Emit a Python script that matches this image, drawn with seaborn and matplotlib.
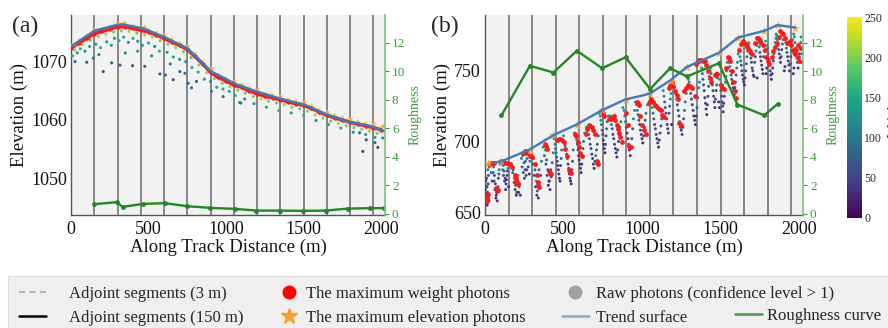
import matplotlib
matplotlib.use("Agg")
import matplotlib.pyplot as plt
import seaborn as sns
from matplotlib.lines import Line2D
from matplotlib.patches import Rectangle
from matplotlib.cm import ScalarMappable
from matplotlib.colors import Normalize

# ---------------- data ----------------
seg_x = [0, 150, 300, 450, 600, 750, 900, 1050, 1200, 1350, 1500, 1650, 1800, 1950]

# panel (a)
trend_a_x = [0, 150, 294, 333, 466, 605, 749, 899, 1060, 1195, 1345, 1496, 1642, 1785, 1929, 2025]
trend_a_y = [1072.6, 1075.3, 1076.3, 1076.4, 1075.7, 1074.2, 1072.3, 1068.4, 1066.2, 1064.9,
             1063.7, 1062.7, 1061.0, 1059.7, 1059.0, 1058.0]
rough_a_x = [150, 294, 333, 466, 605, 749, 899, 1060, 1195, 1345, 1496, 1642, 1785, 1929, 2020]
rough_a_y = [0.66, 0.80, 0.47, 0.68, 0.73, 0.52, 0.40, 0.33, 0.21, 0.21, 0.19, 0.21, 0.35, 0.38, 0.38]
red_a_x = [0, 50, 100, 150, 200, 250, 300, 350, 400, 450, 500, 550, 600, 650, 700, 750, 800, 850, 900, 950,
           1000, 1050, 1100, 1150, 1200, 1250, 1300, 1350, 1400, 1450, 1500, 1550, 1600, 1650, 1700, 1750,
           1800, 1850, 1900, 1950, 2000]
red_a_y = [1072.3, 1073.2, 1074.0, 1074.8, 1075.2, 1075.6, 1076.0, 1076.0, 1075.7, 1075.4,
           1075.1, 1074.6, 1074.0, 1073.4, 1072.8, 1072.1, 1070.9, 1069.6, 1068.2, 1067.3,
           1066.7, 1066.0, 1065.6, 1065.0, 1064.5, 1064.1, 1063.8, 1063.5, 1063.1, 1062.8,
           1062.5, 1062.0, 1061.4, 1060.8, 1060.4, 1060.0, 1059.6, 1059.3, 1059.0, 1058.7, 1058.3]
star_a_x = [20, 150, 300, 340, 470, 600, 750, 900, 1050, 1200, 1350, 1500, 1650, 1800, 1950, 2010]
star_a_y = [1073.0, 1075.6, 1076.6, 1076.7, 1076.0, 1074.6, 1072.7, 1068.9, 1066.7, 1065.3,
            1064.1, 1063.1, 1061.4, 1060.1, 1059.4, 1058.9]
surf_a_x = [0, 50, 100, 150, 200, 250, 300, 350, 400, 450, 500, 550, 600, 650, 700, 750, 800, 850, 900, 950,
            1000, 1050, 1100, 1150, 1200, 1250, 1300, 1350, 1400, 1450, 1500, 1550, 1600, 1650, 1700, 1750,
            1800, 1850, 1900, 1950, 2000]
surf_a_y = [1072.8, 1073.7, 1074.5, 1075.2, 1075.6, 1076.0, 1076.5, 1076.5, 1076.2, 1075.9,
            1075.6, 1075.1, 1074.5, 1073.9, 1073.3, 1072.6, 1071.4, 1070.1, 1068.7, 1067.8,
            1067.2, 1066.6, 1066.1, 1065.5, 1065.0, 1064.6, 1064.3, 1064.0, 1063.6, 1063.3,
            1063.0, 1062.5, 1061.9, 1061.3, 1060.9, 1060.5, 1060.1, 1059.8, 1059.5, 1059.2, 1058.8]
surf_a_w = [240, 250, 230, 245, 250, 235, 250, 240, 245, 230, 250, 240, 235, 245, 250, 230, 240, 250, 245, 235,
            240, 250, 230, 245, 240, 250, 235, 240, 245, 250, 230, 240, 250, 245, 235, 240, 250, 230, 245, 240, 250]
sub_a_x = [25, 75, 125, 175, 225, 275, 325, 375, 425, 475, 525, 575, 625, 675, 725, 775, 825, 875, 925, 975,
           1025, 1075, 1125, 1175, 1225, 1275, 1325, 1375, 1425, 1475, 1525, 1575, 1625, 1675, 1725, 1775,
           1825, 1875, 1925, 1975]
sub_a_y = [1072.0, 1072.9, 1073.7, 1074.3, 1074.7, 1075.1, 1075.3, 1075.2, 1074.9, 1074.6,
           1074.2, 1073.6, 1073.0, 1072.4, 1071.7, 1070.7, 1069.4, 1068.1, 1067.1, 1066.3,
           1065.7, 1065.1, 1064.6, 1064.0, 1063.6, 1063.2, 1062.9, 1062.6, 1062.2, 1061.9,
           1061.5, 1060.9, 1060.3, 1059.8, 1059.4, 1059.0, 1058.7, 1058.4, 1058.1, 1057.7]
sub_a_w = [200, 210, 190, 205, 215, 195, 200, 210, 190, 205, 215, 200, 195, 210, 200, 190, 205, 215, 200, 195,
           210, 200, 190, 205, 215, 200, 195, 210, 200, 190, 205, 215, 200, 195, 210, 200, 190, 205, 215, 200]
mid_a_x = [10, 40, 60, 90, 120, 160, 190, 230, 260, 280, 310, 340, 370, 400, 430, 460, 500, 540, 570, 620,
           660, 700, 740, 780, 820, 860, 900, 940, 980, 1020, 1060, 1120, 1180, 1260, 1340, 1420, 1500, 1580,
           1660, 1740, 1820, 1900, 1960, 2010]
mid_a_y = [1071.0, 1071.5, 1072.2, 1071.8, 1072.6, 1073.0, 1072.4, 1073.4, 1072.8, 1074.0,
           1073.6, 1074.2, 1073.3, 1074.0, 1073.5, 1072.8, 1073.2, 1072.6, 1071.8, 1071.6,
           1070.8, 1070.4, 1070.0, 1069.0, 1068.2, 1067.0, 1066.6, 1065.6, 1065.3, 1064.9,
           1064.2, 1063.6, 1062.8, 1062.2, 1061.6, 1061.2, 1060.8, 1059.9, 1059.2, 1058.6,
           1057.9, 1057.5, 1057.0, 1056.9]
mid_a_w = [150, 140, 160, 120, 150, 130, 160, 140, 150, 130, 160, 140, 120, 150, 130, 140, 150, 130, 160, 140,
           150, 130, 140, 160, 150, 140, 130, 150, 160, 140, 150, 130, 140, 150, 160, 140, 150, 130, 140, 150,
           130, 140, 150, 120]
deep_a_x = [26, 101, 144, 208, 262, 316, 397, 476, 573, 609, 659, 702, 734, 755, 777, 809, 906, 981, 1088, 1095,
            1861, 1882, 1904, 1979, 1960, 350, 180, 520, 430, 640]
deep_a_y = [1070.0, 1069.9, 1070.6, 1068.3, 1069.8, 1069.4, 1069.3, 1069.2, 1067.9, 1067.7,
            1066.9, 1068.3, 1068.0, 1066.3, 1065.5, 1066.6, 1064.9, 1064.0, 1063.0, 1062.9,
            1057.8, 1054.6, 1056.6, 1055.3, 1056.1, 1071.5, 1071.2, 1071.0, 1071.8, 1069.6]
deep_a_w = [80, 70, 90, 60, 80, 70, 60, 80, 70, 90, 60, 80, 100, 70, 90, 80, 110, 90, 120, 100,
            80, 60, 70, 60, 80, 120, 110, 120, 130, 110]

# panel (b)
trend_b_x = [60, 105, 286, 436, 585, 746, 895, 1013, 1051, 1182, 1286, 1489, 1612, 1778, 1863, 1974]
trend_b_y = [685.0, 686.0, 694.4, 704.5, 712.1, 722.2, 729.8, 732.8, 734.0, 743.4, 752.8, 762.7,
             773.6, 778.3, 782.3, 780.7]
rough_b_x = [105, 286, 436, 585, 746, 895, 1051, 1179, 1286, 1489, 1607, 1778, 1863]
rough_b_y = [6.9, 10.38, 9.91, 11.44, 10.21, 10.98, 8.75, 10.21, 9.63, 10.56, 7.66, 6.9, 7.7]
star_b_x = [20, 105, 286, 436, 585, 746, 895, 1051, 1182, 1286, 1489, 1612, 1778, 1863, 1974]
star_b_y = [685, 686.5, 694, 704.5, 712, 722, 729.5, 734, 743, 752.5, 762.5, 773.5, 778, 782.5, 780.5]
red_b_x = [10, 15, 20, 30, 45, 60, 70, 80, 100, 120, 140, 160, 175, 190, 200, 210, 240, 255, 270, 285,
           300, 320, 335, 345, 380, 395, 410, 420, 460, 480, 500, 520, 535, 545, 575, 590, 605, 615, 640, 660,
           680, 700, 712, 720, 745, 760, 790, 820, 840, 855, 870, 900, 920, 930, 965, 980, 1000, 1025, 1045, 1060,
           1080, 1100, 1120, 1140, 1170, 1190, 1210, 1230, 1245, 1265, 1290, 1320, 1335, 1355, 1375, 1400, 1420,
           1440, 1465, 1480, 1500, 1520, 1545, 1560, 1580, 1600, 1620, 1640, 1660, 1680, 1700, 1730, 1750, 1770,
           1790, 1810, 1835, 1860, 1880, 1900, 1920, 1940, 1960, 1975, 1990, 2000]
red_b_y = [660, 658, 663, 684, 685, 685, 667, 666, 686, 685, 685, 684, 682, 676, 672, 670, 692, 693, 692, 690,
           689, 684, 671, 668, 698, 695, 679, 677, 701, 702, 700, 690, 680, 678, 705, 700, 692, 690, 705, 712,
           710, 705, 686, 684, 722, 718, 716, 718, 712, 706, 700, 720, 697, 696, 728, 726, 712, 705, 727, 730,
           726, 724, 722, 717, 738, 742, 736, 730, 712, 736, 740, 738, 732, 757, 758, 757, 750,
           742, 747, 748, 740, 737, 760, 757, 742, 731, 765, 771, 769, 765, 762, 773, 772, 768,
           760, 755, 764, 770, 778, 776, 770, 771, 765, 762, 768, 757]
red2_b_x = [12, 25, 38, 52, 75, 108, 130, 150, 195, 205, 248, 262, 292, 328, 340, 388, 415, 470, 490, 510,
            540, 582, 598, 650, 670, 690, 716, 752, 800, 810, 830, 848, 862, 910, 925, 972, 990, 1012, 1052, 1070,
            1090, 1110, 1130, 1180, 1200, 1220, 1238, 1280, 1305, 1345, 1365, 1390, 1410, 1430, 1472, 1510, 1535,
            1553, 1570, 1590, 1630, 1650, 1670, 1690, 1720, 1740, 1760, 1780, 1800, 1825, 1848, 1870, 1890, 1910,
            1930, 1950, 1968, 1982, 1995, 2010]
red2_b_y = [661, 684, 685, 685, 665, 686, 685, 684, 674, 671, 692, 693, 690, 676, 669, 697, 678, 702, 701, 695,
            679, 704, 696, 709, 711, 708, 685, 720, 716, 717, 715, 709, 703, 712, 696, 727, 718, 708, 729, 728,
            725, 723, 719, 740, 739, 733, 713, 738, 739, 755, 758, 757, 754, 745, 748, 738, 752,
            759, 750, 736, 769, 770, 767, 764, 770, 773, 770, 765, 757, 760, 767, 774, 777, 773,
            770, 768, 763, 765, 760, 766]
raw_b_x = [5, 12, 18, 22, 8, 25, 14, 55, 60, 66, 72, 78, 85, 90, 115, 122, 128, 134, 140, 146, 150,
           180, 188, 195, 203, 210, 218, 225, 240, 248, 255, 262, 268, 275, 282,
           310, 318, 326, 333, 340, 347, 354, 385, 392, 400, 407, 414, 421, 428,
           445, 452, 460, 467, 474, 481, 488, 505, 515, 525, 533, 541, 549, 557,
           580, 588, 596, 604, 612, 620, 628, 655, 665, 675, 685, 695, 705, 715,
           735, 742, 750, 757, 764, 771, 778, 800, 810, 820, 830, 840, 850, 860,
           885, 895, 905, 915, 925, 935, 945, 965, 975, 985, 995, 1005, 1015, 1025,
           1065, 1075, 1085, 1095, 1105, 1115, 1125, 1140, 1148, 1156, 1164, 1172, 1180, 1188,
           1215, 1225, 1235, 1245, 1255, 1265, 1275, 1300, 1310, 1320, 1330, 1340, 1350, 1360,
           1380, 1388, 1396, 1404, 1412, 1420, 1428, 1440, 1448, 1456, 1464, 1472, 1480, 1488,
           1495, 1502, 1510, 1517, 1524, 1531, 1538, 1555, 1563, 1571, 1579, 1587, 1595, 1603,
           1620, 1628, 1636, 1644, 1652, 1660, 1668, 1685, 1693, 1701, 1709, 1717, 1725, 1733,
           1742, 1750, 1758, 1766, 1774, 1782, 1790, 1800, 1808, 1816, 1824, 1832, 1840, 1848,
           1858, 1866, 1874, 1882, 1890, 1898, 1906, 1915, 1923, 1931, 1939, 1947, 1955, 1963,
           1970, 1978, 1986, 1994, 2002, 2010, 2016]
raw_b_y = [672, 668, 680, 676, 662, 658, 655, 682, 676, 670, 662, 658, 674, 680, 683, 679, 674, 670, 676, 681, 668,
           680, 674, 669, 664, 676, 668, 662, 690, 685, 680, 676, 688, 682, 677,
           688, 680, 672, 665, 660, 667, 676, 694, 687, 680, 672, 666, 675, 685,
           698, 692, 686, 680, 674, 683, 694, 700, 694, 688, 681, 674, 670, 686,
           704, 698, 690, 684, 678, 690, 700, 708, 702, 695, 688, 681, 690, 698,
           718, 712, 705, 698, 692, 704, 714, 716, 709, 702, 695, 689, 700, 710,
           722, 714, 706, 698, 690, 702, 716, 726, 719, 712, 705, 699, 710, 720,
           724, 716, 709, 702, 696, 706, 716, 732, 724, 716, 709, 720, 730, 712,
           734, 726, 718, 710, 705, 716, 728, 742, 734, 726, 718, 712, 724, 738,
           752, 744, 736, 727, 719, 732, 746, 748, 740, 732, 724, 736, 745, 728,
           744, 736, 728, 721, 732, 742, 750, 756, 750, 744, 738, 733, 742, 752,
           764, 757, 750, 744, 740, 750, 760, 766, 759, 752, 747, 756, 764, 745,
           770, 763, 757, 751, 760, 768, 748, 766, 758, 750, 744, 752, 762, 770,
           775, 768, 762, 756, 765, 772, 750, 770, 763, 757, 750, 760, 768, 748,
           774, 766, 759, 752, 762, 770, 756]
raw_b_w = [40, 35, 110, 80, 35, 30, 35, 120, 70, 50, 40, 35, 55, 100, 130, 90, 55, 40, 50, 110, 35,
           110, 70, 50, 40, 110, 55, 35, 120, 80, 55, 40, 100, 60, 40,
           110, 70, 130, 80, 40, 50, 60, 120, 80, 50, 40, 35, 55, 100,
           130, 90, 55, 45, 35, 50, 110, 120, 80, 55, 45, 35, 40, 70,
           130, 90, 50, 40, 35, 55, 110, 130, 80, 55, 45, 35, 110, 70,
           130, 90, 55, 45, 35, 60, 110, 120, 80, 55, 45, 35, 50, 100,
           130, 90, 55, 45, 35, 60, 110, 130, 80, 55, 45, 35, 60, 110,
           130, 80, 55, 45, 35, 55, 100, 120, 70, 50, 40, 60, 110, 35,
           120, 80, 55, 45, 35, 60, 110, 130, 80, 55, 45, 35, 60, 110,
           130, 80, 55, 45, 35, 60, 110, 120, 70, 50, 40, 55, 110, 35,
           120, 80, 55, 40, 50, 100, 130, 130, 80, 55, 45, 35, 55, 110,
           130, 80, 55, 45, 35, 60, 110, 130, 80, 55, 45, 60, 110, 35,
           130, 80, 55, 40, 60, 110, 35, 120, 80, 50, 35, 55, 110, 130,
           130, 80, 55, 40, 60, 110, 35, 130, 80, 55, 40, 60, 110, 35,
           130, 80, 55, 40, 60, 110, 50]
raw2_b_x = [3, 10, 16, 20, 28, 35, 40, 45, 52, 58, 63, 69, 75, 82, 88, 95,
            105, 112, 118, 125, 131, 137, 143, 155, 170, 176, 185, 192, 199, 206, 214, 221,
            232, 236, 244, 251, 258, 265, 272, 286, 296, 304, 314, 322, 330, 337, 344, 360,
            370, 378, 388, 396, 403, 410, 418, 435, 440, 449, 456, 463, 470, 478, 485, 495,
            500, 510, 520, 529, 537, 545, 553, 562, 570, 584, 592, 600, 608, 616, 624, 634,
            645, 660, 670, 680, 690, 700, 710, 722, 728, 738, 746, 753, 760, 767, 774, 785,
            795, 805, 815, 825, 835, 845, 855, 865, 878, 890, 900, 910, 920, 930, 940, 952,
            958, 970, 980, 990, 1000, 1010, 1020, 1035, 1055, 1070, 1080, 1090, 1100, 1110, 1120, 1130,
            1135, 1144, 1152, 1160, 1168, 1176, 1184, 1195, 1205, 1220, 1230, 1240, 1250, 1260, 1270, 1282,
            1295, 1305, 1315, 1325, 1335, 1345, 1355, 1366, 1372, 1384, 1392, 1400, 1408, 1416, 1424, 1434,
            1444, 1452, 1460, 1468, 1476, 1484, 1492, 1436, 1498, 1506, 1513, 1520, 1528, 1534, 1542, 1548,
            1559, 1567, 1575, 1583, 1591, 1599, 1607, 1612, 1624, 1632, 1640, 1648, 1656, 1664, 1672, 1678,
            1689, 1697, 1705, 1713, 1721, 1729, 1737, 1680, 1746, 1754, 1762, 1770, 1778, 1786, 1794, 1738,
            1804, 1812, 1820, 1828, 1836, 1844, 1852, 1796, 1862, 1870, 1878, 1886, 1894, 1902, 1910, 1854,
            1919, 1927, 1935, 1943, 1951, 1959, 1967, 1912, 1974, 1982, 1990, 1998, 2006, 2013, 2020, 1966]
raw2_b_y = [666, 674, 664, 670, 682, 684, 678, 672, 678, 672, 666, 660, 664, 668, 677, 684,
            686, 680, 676, 672, 666, 673, 679, 684, 684, 678, 671, 666, 662, 672, 664, 670,
            688, 682, 678, 674, 686, 680, 692, 686, 690, 684, 676, 668, 662, 670, 680, 686,
            696, 690, 684, 676, 669, 672, 680, 692, 702, 695, 689, 683, 677, 672, 688, 700,
            704, 697, 691, 684, 677, 672, 680, 694, 706, 701, 694, 687, 681, 684, 695, 706,
            710, 705, 698, 691, 684, 686, 694, 704, 720, 715, 708, 701, 695, 698, 709, 718,
            718, 712, 705, 698, 692, 694, 705, 714, 724, 718, 710, 702, 694, 696, 709, 722,
            728, 722, 715, 708, 702, 704, 715, 726, 730, 720, 712, 705, 699, 701, 711, 722,
            736, 728, 720, 712, 706, 725, 734, 740, 738, 730, 722, 714, 708, 710, 722, 734,
            744, 738, 730, 722, 715, 718, 731, 742, 756, 748, 740, 731, 723, 726, 739, 750,
            744, 736, 728, 730, 740, 748, 724, 752, 740, 732, 725, 727, 737, 746, 756, 752,
            753, 747, 741, 736, 738, 747, 756, 762, 760, 754, 747, 742, 745, 755, 764, 768,
            762, 756, 750, 746, 760, 768, 772, 770, 767, 760, 754, 748, 764, 771, 752, 773,
            762, 754, 747, 748, 757, 766, 773, 768, 772, 765, 759, 760, 769, 776, 753, 776,
            766, 760, 754, 755, 764, 772, 752, 772, 770, 762, 756, 757, 766, 774, 762, 776]
raw2_b_w = [35, 45, 35, 55, 120, 130, 80, 50, 90, 55, 40, 35, 40, 45, 70, 130,
            130, 100, 60, 45, 35, 45, 80, 130, 130, 90, 55, 40, 35, 60, 40, 50,
            110, 70, 50, 40, 100, 55, 130, 110, 130, 90, 55, 40, 35, 55, 80, 110,
            130, 90, 60, 45, 35, 40, 70, 120, 130, 100, 70, 50, 40, 35, 80, 130,
            130, 100, 60, 50, 40, 35, 55, 100, 130, 110, 70, 45, 40, 50, 80, 130,
            130, 100, 70, 50, 40, 80, 90, 110, 130, 110, 70, 50, 40, 50, 90, 130,
            130, 100, 60, 50, 40, 45, 70, 110, 130, 110, 70, 50, 40, 50, 80, 130,
            130, 100, 60, 50, 40, 50, 90, 130, 130, 100, 60, 50, 40, 45, 70, 120,
            130, 90, 60, 45, 35, 90, 130, 130, 130, 100, 60, 50, 40, 45, 90, 130,
            130, 100, 60, 50, 40, 45, 90, 130, 130, 100, 70, 50, 40, 45, 80, 130,
            90, 60, 45, 50, 80, 130, 35, 130, 100, 60, 50, 45, 70, 120, 130, 110,
            110, 70, 50, 40, 45, 80, 130, 130, 110, 70, 50, 40, 45, 80, 130, 130,
            110, 70, 50, 40, 80, 130, 130, 130, 110, 70, 50, 40, 80, 130, 40, 130,
            110, 70, 50, 40, 70, 120, 130, 130, 110, 70, 50, 45, 80, 130, 40, 130,
            110, 70, 50, 45, 80, 130, 40, 130, 110, 70, 50, 45, 80, 130, 60, 130]

# ---------------- style ----------------
sns.set_theme(style="white")
plt.rcParams["font.family"] = ["Liberation Serif", "DejaVu Serif"]

W, H = 888, 328
fig = plt.figure(figsize=(W / 100, H / 100), dpi=100)


def box(l, t, r, b):
    return [l / W, 1 - b / H, (r - l) / W, (b - t) / H]


axA = fig.add_axes(box(71, 15, 385, 215))
axB = fig.add_axes(box(485, 15, 803, 215))
cax = fig.add_axes(box(847, 17, 862, 218))

GREEN = "#1f8a1f"
GREEN_TXT = "#3a9d3a"
TREND = "#3c7bc6"
RED = "#ff1a1a"
STAR = "#f7a531"


def panel(ax, raw_x, raw_y, raw_w, red_x, red_y, star_x, star_y, tx, ty, rx, ry,
          ylim, yticks, raw_s, red_s, star_s, red_band):
    ax.set_facecolor("#f2f2f2")
    for x in seg_x:
        ax.axvline(x, color="#6a6a6a", lw=1.1, zorder=1)
    sns.scatterplot(x=raw_x, y=raw_y, hue=raw_w, palette="viridis", hue_norm=(0, 250),
                    s=raw_s, linewidth=0, legend=False, ax=ax, zorder=3)
    if red_band:
        sns.lineplot(x=red_x, y=red_y, color=RED, lw=2.6, sort=False, ax=ax, zorder=4)
    sns.scatterplot(x=red_x, y=red_y, color=RED, s=red_s, linewidth=0, ax=ax, zorder=4)
    sns.scatterplot(x=star_x, y=star_y, marker="*", color=STAR, s=star_s, linewidth=0,
                    alpha=0.9, ax=ax, zorder=5)
    sns.lineplot(x=tx, y=ty, color=TREND, lw=1.7, sort=False, ax=ax, zorder=6)
    ax.set_xlim(0, 2025)
    ax.set_ylim(*ylim)
    ax.set_xticks([0, 500, 1000, 1500, 2000])
    ax.set_yticks(yticks)
    ax.tick_params(axis="both", length=0, labelsize=13, pad=3, colors="#111111")
    ax.tick_params(axis="x", pad=4.5)
    ax.set_xlabel("Along Track Distance (m)", fontsize=13.5, labelpad=0, color="#111111")
    ax.set_ylabel("Elevation (m)", fontsize=13.5, labelpad=2, color="#111111")
    for s in ["top", "right"]:
        ax.spines[s].set_visible(False)
    for s in ["left", "bottom"]:
        ax.spines[s].set_color("#555555")
        ax.spines[s].set_linewidth(1.0)

    ax2 = ax.twinx()
    sns.lineplot(x=rx, y=ry, color=GREEN, lw=1.7, marker="o", markersize=3.5,
                 markeredgewidth=0, sort=False, ax=ax2)
    ax2.set_xlim(0, 2025)
    ax2.set_ylim(-0.1, 13.95)
    ax2.set_yticks([0, 2, 4, 6, 8, 10, 12])
    ax2.tick_params(axis="y", colors=GREEN_TXT, labelsize=9.5, length=3, width=0.8, pad=2)
    ax2.set_ylabel("Roughness", color=GREEN_TXT, fontsize=10, labelpad=2)
    for s in ["top", "left", "bottom"]:
        ax2.spines[s].set_visible(False)
    ax2.spines["right"].set_color("#7cc47c")
    ax2.spines["right"].set_linewidth(1.2)
    return ax2


raw_a_x = surf_a_x + sub_a_x + mid_a_x + deep_a_x
raw_a_y = surf_a_y + sub_a_y + mid_a_y + deep_a_y
raw_a_w = surf_a_w + sub_a_w + mid_a_w + deep_a_w

panel(axA, raw_a_x, raw_a_y, raw_a_w, red_a_x, red_a_y, star_a_x, star_a_y,
      trend_a_x, trend_a_y, rough_a_x, rough_a_y,
      (1043.7, 1078.0), [1050, 1060, 1070], 5, 10, 22, True)
panel(axB, raw_b_x + raw2_b_x, raw_b_y + raw2_b_y, raw_b_w + raw2_b_w,
      red_b_x + red2_b_x, red_b_y + red2_b_y, star_b_x, star_b_y,
      trend_b_x, trend_b_y, rough_b_x, rough_b_y,
      (648.0, 789.5), [650, 700, 750], 4.5, 12, 45, False)

# colorbar
cb = fig.colorbar(ScalarMappable(norm=Normalize(0, 250), cmap="viridis"), cax=cax)
cb.set_ticks([0, 50, 100, 150, 200, 250])
cb.ax.tick_params(labelsize=8.5, length=0, pad=1.5)
cb.outline.set_visible(False)
cb.set_label("Weight", fontsize=10, labelpad=4)

# panel tags
fig.text(12 / W, 1 - 26 / H, "(a)", fontsize=17, va="center", ha="left")
fig.text(431 / W, 1 - 26 / H, "(b)", fontsize=17, va="center", ha="left")

# legend background
fig.add_artist(Rectangle((8 / W, 0), 1.0, 1 - 276 / H, transform=fig.transFigure,
                         facecolor="#efefef", edgecolor="#dddddd", lw=0.8, zorder=0))

leg_kw = dict(frameon=False, fontsize=12, loc="upper left", borderaxespad=0, borderpad=0,
              labelspacing=0.45)
h1 = [Line2D([], [], color="#b8b8b8", lw=1.5, ls=(0, (3, 2))),
      Line2D([], [], color="black", lw=1.8)]
fig.legend(h1, ["Adjoint segments (3 m)", "Adjoint segments (150 m)"],
           bbox_to_anchor=(19 / W, 1 - 286 / H), handlelength=1.6, handletextpad=1.4, **leg_kw)
h2 = [Line2D([], [], ls="none", marker="o", color="#ff0000", markersize=9),
      Line2D([], [], ls="none", marker="*", color="#f5a030", markersize=12)]
fig.legend(h2, ["The maximum weight photons", "The maximum elevation photons"],
           bbox_to_anchor=(276 / W, 1 - 286 / H), handlelength=1.6, handletextpad=0.2, **leg_kw)
h3 = [Line2D([], [], ls="none", marker="o", color="#a0a0a0", markersize=9),
      Line2D([], [], color="#8aaad6", lw=1.8)]
fig.legend(h3, ["Raw photons (confidence level > 1)", "Trend surface"],
           bbox_to_anchor=(562 / W, 1 - 286 / H), handlelength=1.6, handletextpad=0.45, **leg_kw)
h4 = [Line2D([], [], color="#4a9a4a", lw=1.8)]
fig.legend(h4, ["Roughness curve"],
           bbox_to_anchor=(735 / W, 1 - 308 / H), handlelength=1.6, handletextpad=0.3, **leg_kw)

fig.savefig("out.png", dpi=100)
